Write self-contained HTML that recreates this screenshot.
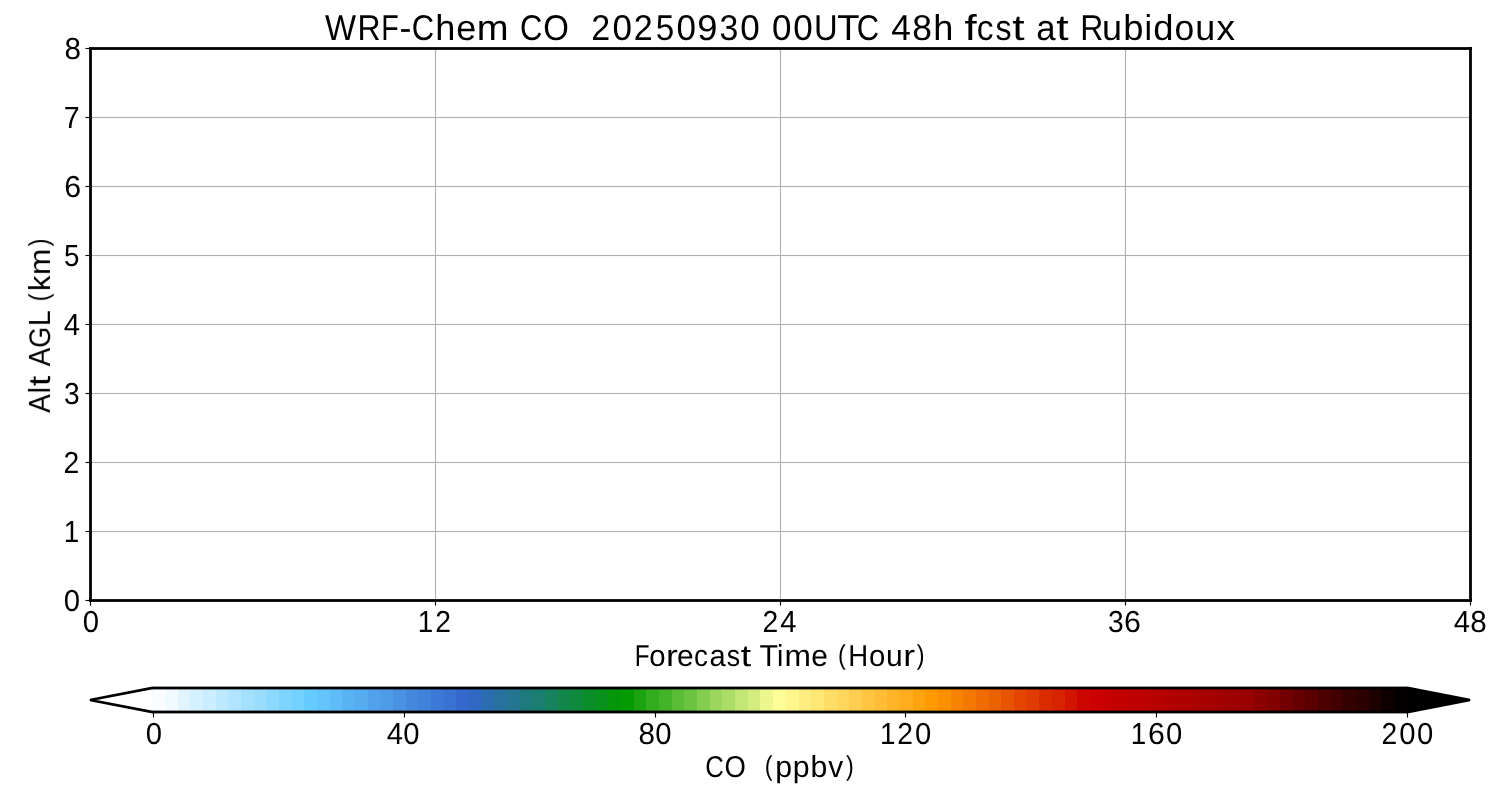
<!DOCTYPE html>
<html><head><meta charset="utf-8"><title>WRF-Chem CO</title>
<style>html,body{margin:0;padding:0;background:#fff;}body{width:1500px;height:800px;overflow:hidden;}svg{display:block;}text{font-family:"Liberation Sans",sans-serif;fill:#000;white-space:pre;text-rendering:geometricPrecision;}</style>
</head><body>
<svg width="1500" height="800" viewBox="0 0 1500 800">
<rect x="0" y="0" width="1500" height="800" fill="#ffffff"/>
<g stroke="#b0b0b0" stroke-width="1.11" fill="none">
<line x1="435.5" y1="48.5" x2="435.5" y2="600.5"/>
<line x1="780.5" y1="48.5" x2="780.5" y2="600.5"/>
<line x1="1125.5" y1="48.5" x2="1125.5" y2="600.5"/>
<line x1="90.5" y1="117.5" x2="1470.5" y2="117.5"/>
<line x1="90.5" y1="186.5" x2="1470.5" y2="186.5"/>
<line x1="90.5" y1="255.5" x2="1470.5" y2="255.5"/>
<line x1="90.5" y1="324.5" x2="1470.5" y2="324.5"/>
<line x1="90.5" y1="393.5" x2="1470.5" y2="393.5"/>
<line x1="90.5" y1="462.5" x2="1470.5" y2="462.5"/>
<line x1="90.5" y1="531.5" x2="1470.5" y2="531.5"/>
</g>
<g shape-rendering="crispEdges">
<rect x="92" y="116" width="1377" height="1" fill="#b0b0b0" fill-opacity="0.063"/>
<rect x="92" y="118" width="1377" height="1" fill="#b0b0b0" fill-opacity="0.063"/>
<rect x="92" y="185" width="1377" height="1" fill="#b0b0b0" fill-opacity="0.063"/>
<rect x="92" y="187" width="1377" height="1" fill="#b0b0b0" fill-opacity="0.063"/>
<rect x="92" y="254" width="1377" height="1" fill="#b0b0b0" fill-opacity="0.063"/>
<rect x="92" y="256" width="1377" height="1" fill="#b0b0b0" fill-opacity="0.063"/>
<rect x="92" y="323" width="1377" height="1" fill="#b0b0b0" fill-opacity="0.063"/>
<rect x="92" y="325" width="1377" height="1" fill="#b0b0b0" fill-opacity="0.063"/>
<rect x="92" y="392" width="1377" height="1" fill="#b0b0b0" fill-opacity="0.063"/>
<rect x="92" y="394" width="1377" height="1" fill="#b0b0b0" fill-opacity="0.063"/>
<rect x="92" y="461" width="1377" height="1" fill="#b0b0b0" fill-opacity="0.063"/>
<rect x="92" y="463" width="1377" height="1" fill="#b0b0b0" fill-opacity="0.063"/>
<rect x="92" y="530" width="1377" height="1" fill="#b0b0b0" fill-opacity="0.063"/>
<rect x="92" y="532" width="1377" height="1" fill="#b0b0b0" fill-opacity="0.063"/>
</g>
<g stroke="#000" stroke-width="1.11" fill="none">
<line x1="90.5" y1="600.5" x2="90.5" y2="605.5"/>
<line x1="435.5" y1="600.5" x2="435.5" y2="605.5"/>
<line x1="780.5" y1="600.5" x2="780.5" y2="605.5"/>
<line x1="1125.5" y1="600.5" x2="1125.5" y2="605.5"/>
<line x1="1470.5" y1="600.5" x2="1470.5" y2="605.5"/>
<line x1="85.5" y1="48.5" x2="90.5" y2="48.5"/>
<line x1="85.5" y1="117.5" x2="90.5" y2="117.5"/>
<line x1="85.5" y1="186.5" x2="90.5" y2="186.5"/>
<line x1="85.5" y1="255.5" x2="90.5" y2="255.5"/>
<line x1="85.5" y1="324.5" x2="90.5" y2="324.5"/>
<line x1="85.5" y1="393.5" x2="90.5" y2="393.5"/>
<line x1="85.5" y1="462.5" x2="90.5" y2="462.5"/>
<line x1="85.5" y1="531.5" x2="90.5" y2="531.5"/>
<line x1="85.5" y1="600.5" x2="90.5" y2="600.5"/>
<line x1="153.5" y1="712" x2="153.5" y2="717.5"/>
<line x1="404.5" y1="712" x2="404.5" y2="717.5"/>
<line x1="655.5" y1="712" x2="655.5" y2="717.5"/>
<line x1="905.5" y1="712" x2="905.5" y2="717.5"/>
<line x1="1156.5" y1="712" x2="1156.5" y2="717.5"/>
<line x1="1407.5" y1="712" x2="1407.5" y2="717.5"/>
</g>
<rect x="90.5" y="48.5" width="1380" height="552" fill="none" stroke="#000" stroke-width="2.78" stroke-linejoin="miter"/>
<g shape-rendering="crispEdges" fill="#000" fill-opacity="0.98">
<rect x="89" y="47" width="3" height="3"/>
<rect x="89" y="599" width="3" height="3"/>
<rect x="1469" y="47" width="3" height="3"/>
<rect x="1469" y="599" width="3" height="3"/>
</g>
<g shape-rendering="crispEdges">
<rect x="152" y="688" width="1255" height="24" fill="#fafdff"/>
<rect x="165" y="688" width="1242" height="24" fill="#f1faff"/>
<rect x="178" y="688" width="1229" height="24" fill="#e2f5ff"/>
<rect x="190" y="688" width="1217" height="24" fill="#d4f1ff"/>
<rect x="203" y="688" width="1204" height="24" fill="#caedff"/>
<rect x="216" y="688" width="1191" height="24" fill="#bce9ff"/>
<rect x="228" y="688" width="1179" height="24" fill="#b2e5ff"/>
<rect x="241" y="688" width="1166" height="24" fill="#a4e1ff"/>
<rect x="254" y="688" width="1153" height="24" fill="#9addff"/>
<rect x="266" y="688" width="1141" height="24" fill="#8cd9ff"/>
<rect x="279" y="688" width="1128" height="24" fill="#7dd4ff"/>
<rect x="292" y="688" width="1115" height="24" fill="#74d1ff"/>
<rect x="304" y="688" width="1103" height="24" fill="#66ccff"/>
<rect x="317" y="688" width="1090" height="24" fill="#63c5fc"/>
<rect x="330" y="688" width="1077" height="24" fill="#5ebcf7"/>
<rect x="342" y="688" width="1065" height="24" fill="#59b2f2"/>
<rect x="355" y="688" width="1052" height="24" fill="#56acef"/>
<rect x="368" y="688" width="1039" height="24" fill="#51a2ea"/>
<rect x="380" y="688" width="1027" height="24" fill="#4e9ce7"/>
<rect x="393" y="688" width="1014" height="24" fill="#4992e2"/>
<rect x="406" y="688" width="1001" height="24" fill="#4488dd"/>
<rect x="418" y="688" width="989" height="24" fill="#4182da"/>
<rect x="431" y="688" width="976" height="24" fill="#3c78d5"/>
<rect x="444" y="688" width="963" height="24" fill="#3972d2"/>
<rect x="456" y="688" width="951" height="24" fill="#3468cd"/>
<rect x="469" y="688" width="938" height="24" fill="#3168c4"/>
<rect x="482" y="688" width="925" height="24" fill="#2c6db1"/>
<rect x="494" y="688" width="913" height="24" fill="#27729e"/>
<rect x="507" y="688" width="900" height="24" fill="#247591"/>
<rect x="520" y="688" width="887" height="24" fill="#1f7a7e"/>
<rect x="532" y="688" width="875" height="24" fill="#1c7d71"/>
<rect x="545" y="688" width="862" height="24" fill="#17825e"/>
<rect x="558" y="688" width="849" height="24" fill="#13864a"/>
<rect x="570" y="688" width="837" height="24" fill="#0f8a3e"/>
<rect x="583" y="688" width="824" height="24" fill="#0b8e2a"/>
<rect x="596" y="688" width="811" height="24" fill="#07921e"/>
<rect x="608" y="688" width="799" height="24" fill="#03960a"/>
<rect x="621" y="688" width="786" height="24" fill="#039a02"/>
<rect x="634" y="688" width="773" height="24" fill="#1ba410"/>
<rect x="646" y="688" width="761" height="24" fill="#33ad1f"/>
<rect x="659" y="688" width="748" height="24" fill="#43b428"/>
<rect x="672" y="688" width="735" height="24" fill="#5bbd37"/>
<rect x="684" y="688" width="723" height="24" fill="#6bc440"/>
<rect x="697" y="688" width="710" height="24" fill="#83cd4f"/>
<rect x="710" y="688" width="697" height="24" fill="#9bd75d"/>
<rect x="722" y="688" width="685" height="24" fill="#abdd67"/>
<rect x="735" y="688" width="672" height="24" fill="#c3e775"/>
<rect x="748" y="688" width="659" height="24" fill="#d3ed7f"/>
<rect x="760" y="688" width="647" height="24" fill="#ebf78d"/>
<rect x="773" y="688" width="634" height="24" fill="#fffd97"/>
<rect x="786" y="688" width="621" height="24" fill="#fff78d"/>
<rect x="799" y="688" width="608" height="24" fill="#ffed7f"/>
<rect x="811" y="688" width="596" height="24" fill="#ffe775"/>
<rect x="824" y="688" width="583" height="24" fill="#ffdd67"/>
<rect x="837" y="688" width="570" height="24" fill="#ffd75d"/>
<rect x="849" y="688" width="558" height="24" fill="#ffcd4f"/>
<rect x="862" y="688" width="545" height="24" fill="#ffc440"/>
<rect x="875" y="688" width="532" height="24" fill="#ffbd37"/>
<rect x="887" y="688" width="520" height="24" fill="#ffb428"/>
<rect x="900" y="688" width="507" height="24" fill="#ffad1f"/>
<rect x="913" y="688" width="494" height="24" fill="#ffa410"/>
<rect x="925" y="688" width="482" height="24" fill="#ff9a02"/>
<rect x="938" y="688" width="469" height="24" fill="#fc9100"/>
<rect x="951" y="688" width="456" height="24" fill="#f88300"/>
<rect x="963" y="688" width="444" height="24" fill="#f47900"/>
<rect x="976" y="688" width="431" height="24" fill="#f06b00"/>
<rect x="989" y="688" width="418" height="24" fill="#ec6100"/>
<rect x="1001" y="688" width="406" height="24" fill="#e85300"/>
<rect x="1014" y="688" width="393" height="24" fill="#e34400"/>
<rect x="1027" y="688" width="380" height="24" fill="#e03b00"/>
<rect x="1039" y="688" width="368" height="24" fill="#db2c00"/>
<rect x="1052" y="688" width="355" height="24" fill="#d82300"/>
<rect x="1065" y="688" width="342" height="24" fill="#d31400"/>
<rect x="1077" y="688" width="330" height="24" fill="#ce0600"/>
<rect x="1090" y="688" width="317" height="24" fill="#cb0000"/>
<rect x="1103" y="688" width="304" height="24" fill="#c60000"/>
<rect x="1115" y="688" width="292" height="24" fill="#c30000"/>
<rect x="1128" y="688" width="279" height="24" fill="#be0000"/>
<rect x="1141" y="688" width="266" height="24" fill="#bb0000"/>
<rect x="1153" y="688" width="254" height="24" fill="#b60000"/>
<rect x="1166" y="688" width="241" height="24" fill="#b10000"/>
<rect x="1179" y="688" width="228" height="24" fill="#ae0000"/>
<rect x="1191" y="688" width="216" height="24" fill="#a90000"/>
<rect x="1204" y="688" width="203" height="24" fill="#a60000"/>
<rect x="1217" y="688" width="190" height="24" fill="#a10000"/>
<rect x="1229" y="688" width="178" height="24" fill="#9c0000"/>
<rect x="1242" y="688" width="165" height="24" fill="#990000"/>
<rect x="1255" y="688" width="152" height="24" fill="#8b0000"/>
<rect x="1267" y="688" width="140" height="24" fill="#820000"/>
<rect x="1280" y="688" width="127" height="24" fill="#730000"/>
<rect x="1293" y="688" width="114" height="24" fill="#650000"/>
<rect x="1305" y="688" width="102" height="24" fill="#5b0000"/>
<rect x="1318" y="688" width="89" height="24" fill="#4d0000"/>
<rect x="1331" y="688" width="76" height="24" fill="#430000"/>
<rect x="1343" y="688" width="64" height="24" fill="#350000"/>
<rect x="1356" y="688" width="51" height="24" fill="#2b0000"/>
<rect x="1369" y="688" width="38" height="24" fill="#1d0000"/>
<rect x="1381" y="688" width="26" height="24" fill="#0e0000"/>
<rect x="1394" y="688" width="13" height="24" fill="#050000"/>
</g>
<polygon points="1407,688 1470,700 1407,712" fill="#000"/>
<clipPath id="tri"><rect x="80" y="680" width="73" height="40"/><rect x="1407" y="680" width="80" height="40"/></clipPath>
<polygon clip-path="url(#tri)" points="152.7,688 1407.3,688 1470,700 1407.3,712 152.7,712 90,700" fill="none" stroke="#000" stroke-width="2.78" stroke-linejoin="miter"/>
<g shape-rendering="crispEdges" fill="#000">
<rect x="153" y="686" width="1254" height="1" fill-opacity="0.395"/>
<rect x="153" y="687" width="1254" height="2" fill-opacity="1"/>
<rect x="153" y="689" width="1254" height="1" fill-opacity="0.395"/>
<rect x="153" y="710" width="1254" height="1" fill-opacity="0.395"/>
<rect x="153" y="711" width="1254" height="2" fill-opacity="1"/>
<rect x="153" y="713" width="1254" height="1" fill-opacity="0.395"/>
</g>
<g style="filter:grayscale(1)">
<text transform="matrix(0.95000 0 0 0.95000 0 632.00)" y="0" font-size="32"><tspan x="87.09" textLength="17.15" lengthAdjust="spacingAndGlyphs">0</tspan></text>
<text transform="matrix(0.95000 0 0 0.95000 0 632.00)" y="0" font-size="32"><tspan x="439.87" textLength="16.29" lengthAdjust="spacingAndGlyphs">1</tspan><tspan x="458.11" textLength="16.54" lengthAdjust="spacingAndGlyphs">2</tspan></text>
<text transform="matrix(0.95000 0 0 0.95000 0 632.00)" y="0" font-size="32"><tspan x="802.71" textLength="16.54" lengthAdjust="spacingAndGlyphs">2</tspan><tspan x="821.40" textLength="17.14" lengthAdjust="spacingAndGlyphs">4</tspan></text>
<text transform="matrix(0.95000 0 0 0.95000 0 632.00)" y="0" font-size="32"><tspan x="1166.37" textLength="16.51" lengthAdjust="spacingAndGlyphs">3</tspan><tspan x="1183.25" textLength="17.76" lengthAdjust="spacingAndGlyphs">6</tspan></text>
<text transform="matrix(0.95000 0 0 0.95000 0 632.00)" y="0" font-size="32"><tspan x="1530.21" textLength="17.14" lengthAdjust="spacingAndGlyphs">4</tspan><tspan x="1547.59" textLength="17.31" lengthAdjust="spacingAndGlyphs">8</tspan></text>
<text transform="matrix(0.94531 0 0 0.94531 0 666.00)" y="0" font-size="32"><tspan x="671.38" textLength="15.64" lengthAdjust="spacingAndGlyphs">F</tspan><tspan x="686.83" textLength="17.29" lengthAdjust="spacingAndGlyphs">o</tspan><tspan x="704.55" textLength="12.51" lengthAdjust="spacingAndGlyphs">r</tspan><tspan x="716.15" textLength="17.55" lengthAdjust="spacingAndGlyphs">e</tspan><tspan x="734.22" textLength="14.72" lengthAdjust="spacingAndGlyphs">c</tspan><tspan x="750.43" textLength="17.12" lengthAdjust="spacingAndGlyphs">a</tspan><tspan x="768.80" textLength="14.10" lengthAdjust="spacingAndGlyphs">s</tspan><tspan x="783.54" textLength="10.93" lengthAdjust="spacingAndGlyphs">t</tspan> <tspan x="803.38" textLength="19.57" lengthAdjust="spacingAndGlyphs">T</tspan><tspan x="821.92" textLength="6.69" lengthAdjust="spacingAndGlyphs">i</tspan><tspan x="829.77" textLength="27.98" lengthAdjust="spacingAndGlyphs">m</tspan><tspan x="858.30" textLength="17.55" lengthAdjust="spacingAndGlyphs">e</tspan> <tspan x="886.40" y="-2.29" font-size="28.95" textLength="8.24" lengthAdjust="spacingAndGlyphs">(</tspan><tspan x="897.31" y="0" textLength="21.03" lengthAdjust="spacingAndGlyphs">H</tspan><tspan x="919.16" textLength="17.29" lengthAdjust="spacingAndGlyphs">o</tspan><tspan x="937.18" textLength="17.66" lengthAdjust="spacingAndGlyphs">u</tspan><tspan x="955.52" textLength="12.51" lengthAdjust="spacingAndGlyphs">r</tspan><tspan x="969.69" y="-2.29" font-size="28.95" textLength="8.24" lengthAdjust="spacingAndGlyphs">)</tspan></text>
<text transform="matrix(0.95000 0 0 0.95000 0 611.00)" y="0" font-size="32"><tspan x="67.09" textLength="17.15" lengthAdjust="spacingAndGlyphs">0</tspan></text>
<text transform="matrix(0.95000 0 0 0.95000 0 542.00)" y="0" font-size="32"><tspan x="67.24" textLength="16.29" lengthAdjust="spacingAndGlyphs">1</tspan></text>
<text transform="matrix(0.95000 0 0 0.95000 0 473.00)" y="0" font-size="32"><tspan x="66.92" textLength="16.54" lengthAdjust="spacingAndGlyphs">2</tspan></text>
<text transform="matrix(0.95000 0 0 0.95000 0 404.00)" y="0" font-size="32"><tspan x="67.42" textLength="16.51" lengthAdjust="spacingAndGlyphs">3</tspan></text>
<text transform="matrix(0.95000 0 0 0.95000 0 335.00)" y="0" font-size="32"><tspan x="67.06" textLength="17.14" lengthAdjust="spacingAndGlyphs">4</tspan></text>
<text transform="matrix(0.95000 0 0 0.95000 0 266.00)" y="0" font-size="32"><tspan x="67.39" textLength="16.21" lengthAdjust="spacingAndGlyphs">5</tspan></text>
<text transform="matrix(0.95000 0 0 0.95000 0 197.00)" y="0" font-size="32"><tspan x="67.72" textLength="17.76" lengthAdjust="spacingAndGlyphs">6</tspan></text>
<text transform="matrix(0.95000 0 0 0.95000 0 128.00)" y="0" font-size="32"><tspan x="67.14" textLength="16.74" lengthAdjust="spacingAndGlyphs">7</tspan></text>
<text transform="matrix(0.95000 0 0 0.95000 0 59.00)" y="0" font-size="32"><tspan x="67.99" textLength="17.31" lengthAdjust="spacingAndGlyphs">8</tspan></text>
<text transform="matrix(0 -0.94531 0.94531 0 50.30 0)" y="0" font-size="32"><tspan x="-436.72" y="-0.00" font-size="32.29" textLength="19.72" lengthAdjust="spacingAndGlyphs">A</tspan><tspan x="-416.04" y="-0.00" font-size="32.12" textLength="6.69" lengthAdjust="spacingAndGlyphs">l</tspan><tspan x="-408.40" y="-0.25" font-size="32.34" textLength="10.93" lengthAdjust="spacingAndGlyphs">t</tspan> <tspan x="-387.53" y="-0.00" font-size="32.29" textLength="19.72" lengthAdjust="spacingAndGlyphs">A</tspan><tspan x="-367.98" y="-0.31" font-size="31.38" textLength="22.21" lengthAdjust="spacingAndGlyphs">G</tspan><tspan x="-345.08" y="-0.00" font-size="32.29" textLength="16.76" lengthAdjust="spacingAndGlyphs">L</tspan> <tspan x="-318.76" y="-2.29" font-size="28.95" textLength="8.24" lengthAdjust="spacingAndGlyphs">(</tspan><tspan x="-307.93" y="-0.00" font-size="32.12" textLength="16.41" lengthAdjust="spacingAndGlyphs">k</tspan><tspan x="-291.02" y="-0.00" font-size="31.46" textLength="27.98" lengthAdjust="spacingAndGlyphs">m</tspan><tspan x="-260.59" y="-2.29" font-size="28.95" textLength="8.24" lengthAdjust="spacingAndGlyphs">)</tspan></text>
<text transform="matrix(1.11875 0 0 1.11875 0 40.00)" y="0" font-size="32"><tspan x="290.47" textLength="27.76" lengthAdjust="spacingAndGlyphs">W</tspan><tspan x="319.66" textLength="20.66" lengthAdjust="spacingAndGlyphs">R</tspan><tspan x="340.69" textLength="15.64" lengthAdjust="spacingAndGlyphs">F</tspan><tspan x="357.12" textLength="10.67" lengthAdjust="spacingAndGlyphs">-</tspan><tspan x="368.09" textLength="20.00" lengthAdjust="spacingAndGlyphs">C</tspan><tspan x="389.04" textLength="17.97" lengthAdjust="spacingAndGlyphs">h</tspan><tspan x="407.80" textLength="17.88" lengthAdjust="spacingAndGlyphs">e</tspan><tspan x="426.23" textLength="28.43" lengthAdjust="spacingAndGlyphs">m</tspan> <tspan x="464.74" textLength="20.00" lengthAdjust="spacingAndGlyphs">C</tspan><tspan x="485.53" textLength="22.92" lengthAdjust="spacingAndGlyphs">O</tspan>  <tspan x="528.41" textLength="16.91" lengthAdjust="spacingAndGlyphs">2</tspan><tspan x="547.60" textLength="17.42" lengthAdjust="spacingAndGlyphs">0</tspan><tspan x="566.52" textLength="16.91" lengthAdjust="spacingAndGlyphs">2</tspan><tspan x="586.07" textLength="16.51" lengthAdjust="spacingAndGlyphs">5</tspan><tspan x="604.70" textLength="17.42" lengthAdjust="spacingAndGlyphs">0</tspan><tspan x="623.29" textLength="18.03" lengthAdjust="spacingAndGlyphs">9</tspan><tspan x="643.04" textLength="16.84" lengthAdjust="spacingAndGlyphs">3</tspan><tspan x="661.68" textLength="17.42" lengthAdjust="spacingAndGlyphs">0</tspan> <tspan x="690.17" textLength="17.42" lengthAdjust="spacingAndGlyphs">0</tspan><tspan x="709.17" textLength="17.42" lengthAdjust="spacingAndGlyphs">0</tspan><tspan x="727.68" textLength="21.17" lengthAdjust="spacingAndGlyphs">U</tspan><tspan x="748.32" textLength="19.92" lengthAdjust="spacingAndGlyphs">T</tspan><tspan x="765.86" textLength="20.00" lengthAdjust="spacingAndGlyphs">C</tspan> <tspan x="796.60" textLength="17.51" lengthAdjust="spacingAndGlyphs">4</tspan><tspan x="815.50" textLength="17.61" lengthAdjust="spacingAndGlyphs">8</tspan><tspan x="834.18" textLength="17.97" lengthAdjust="spacingAndGlyphs">h</tspan> <tspan x="862.24" textLength="10.89" lengthAdjust="spacingAndGlyphs">f</tspan><tspan x="873.03" textLength="14.97" lengthAdjust="spacingAndGlyphs">c</tspan><tspan x="889.82" textLength="14.35" lengthAdjust="spacingAndGlyphs">s</tspan><tspan x="904.76" textLength="11.06" lengthAdjust="spacingAndGlyphs">t</tspan> <tspan x="926.17" textLength="17.27" lengthAdjust="spacingAndGlyphs">a</tspan><tspan x="944.09" textLength="11.06" lengthAdjust="spacingAndGlyphs">t</tspan> <tspan x="965.59" textLength="20.66" lengthAdjust="spacingAndGlyphs">R</tspan><tspan x="984.96" textLength="17.85" lengthAdjust="spacingAndGlyphs">u</tspan><tspan x="1003.94" textLength="18.10" lengthAdjust="spacingAndGlyphs">b</tspan><tspan x="1023.10" textLength="6.78" lengthAdjust="spacingAndGlyphs">i</tspan><tspan x="1030.92" textLength="18.10" lengthAdjust="spacingAndGlyphs">d</tspan><tspan x="1049.95" textLength="17.64" lengthAdjust="spacingAndGlyphs">o</tspan><tspan x="1068.42" textLength="17.85" lengthAdjust="spacingAndGlyphs">u</tspan><tspan x="1087.31" textLength="16.54" lengthAdjust="spacingAndGlyphs">x</tspan></text>
<text transform="matrix(0.95000 0 0 0.95000 0 744.00)" y="0" font-size="32"><tspan x="153.40" textLength="17.15" lengthAdjust="spacingAndGlyphs">0</tspan></text>
<text transform="matrix(0.95000 0 0 0.95000 0 744.00)" y="0" font-size="32"><tspan x="407.06" textLength="17.14" lengthAdjust="spacingAndGlyphs">4</tspan><tspan x="424.59" textLength="17.15" lengthAdjust="spacingAndGlyphs">0</tspan></text>
<text transform="matrix(0.95000 0 0 0.95000 0 744.00)" y="0" font-size="32"><tspan x="672.20" textLength="17.31" lengthAdjust="spacingAndGlyphs">8</tspan><tspan x="689.85" textLength="17.15" lengthAdjust="spacingAndGlyphs">0</tspan></text>
<text transform="matrix(0.95000 0 0 0.95000 0 744.00)" y="0" font-size="32"><tspan x="926.19" textLength="16.29" lengthAdjust="spacingAndGlyphs">1</tspan><tspan x="944.42" textLength="16.54" lengthAdjust="spacingAndGlyphs">2</tspan><tspan x="963.14" textLength="17.15" lengthAdjust="spacingAndGlyphs">0</tspan></text>
<text transform="matrix(0.95000 0 0 0.95000 0 744.00)" y="0" font-size="32"><tspan x="1190.40" textLength="16.29" lengthAdjust="spacingAndGlyphs">1</tspan><tspan x="1208.38" textLength="17.76" lengthAdjust="spacingAndGlyphs">6</tspan><tspan x="1227.35" textLength="17.15" lengthAdjust="spacingAndGlyphs">0</tspan></text>
<text transform="matrix(0.95000 0 0 0.95000 0 744.00)" y="0" font-size="32"><tspan x="1454.29" textLength="16.54" lengthAdjust="spacingAndGlyphs">2</tspan><tspan x="1473.01" textLength="17.15" lengthAdjust="spacingAndGlyphs">0</tspan><tspan x="1491.69" textLength="17.15" lengthAdjust="spacingAndGlyphs">0</tspan></text>
<text transform="matrix(0.94531 0 0 0.94531 0 777.00)" y="0" font-size="32"><tspan x="745.99" textLength="19.68" lengthAdjust="spacingAndGlyphs">C</tspan><tspan x="766.49" textLength="22.60" lengthAdjust="spacingAndGlyphs">O</tspan>  <tspan x="809.04" y="-2.29" font-size="28.95" textLength="8.24" lengthAdjust="spacingAndGlyphs">(</tspan><tspan x="820.02" y="0" textLength="17.82" lengthAdjust="spacingAndGlyphs">p</tspan><tspan x="838.66" textLength="17.82" lengthAdjust="spacingAndGlyphs">p</tspan><tspan x="857.31" textLength="17.82" lengthAdjust="spacingAndGlyphs">b</tspan><tspan x="876.14" textLength="15.84" lengthAdjust="spacingAndGlyphs">v</tspan><tspan x="894.85" y="-2.29" font-size="28.95" textLength="8.24" lengthAdjust="spacingAndGlyphs">)</tspan></text>
</g>
</svg>
</body></html>
